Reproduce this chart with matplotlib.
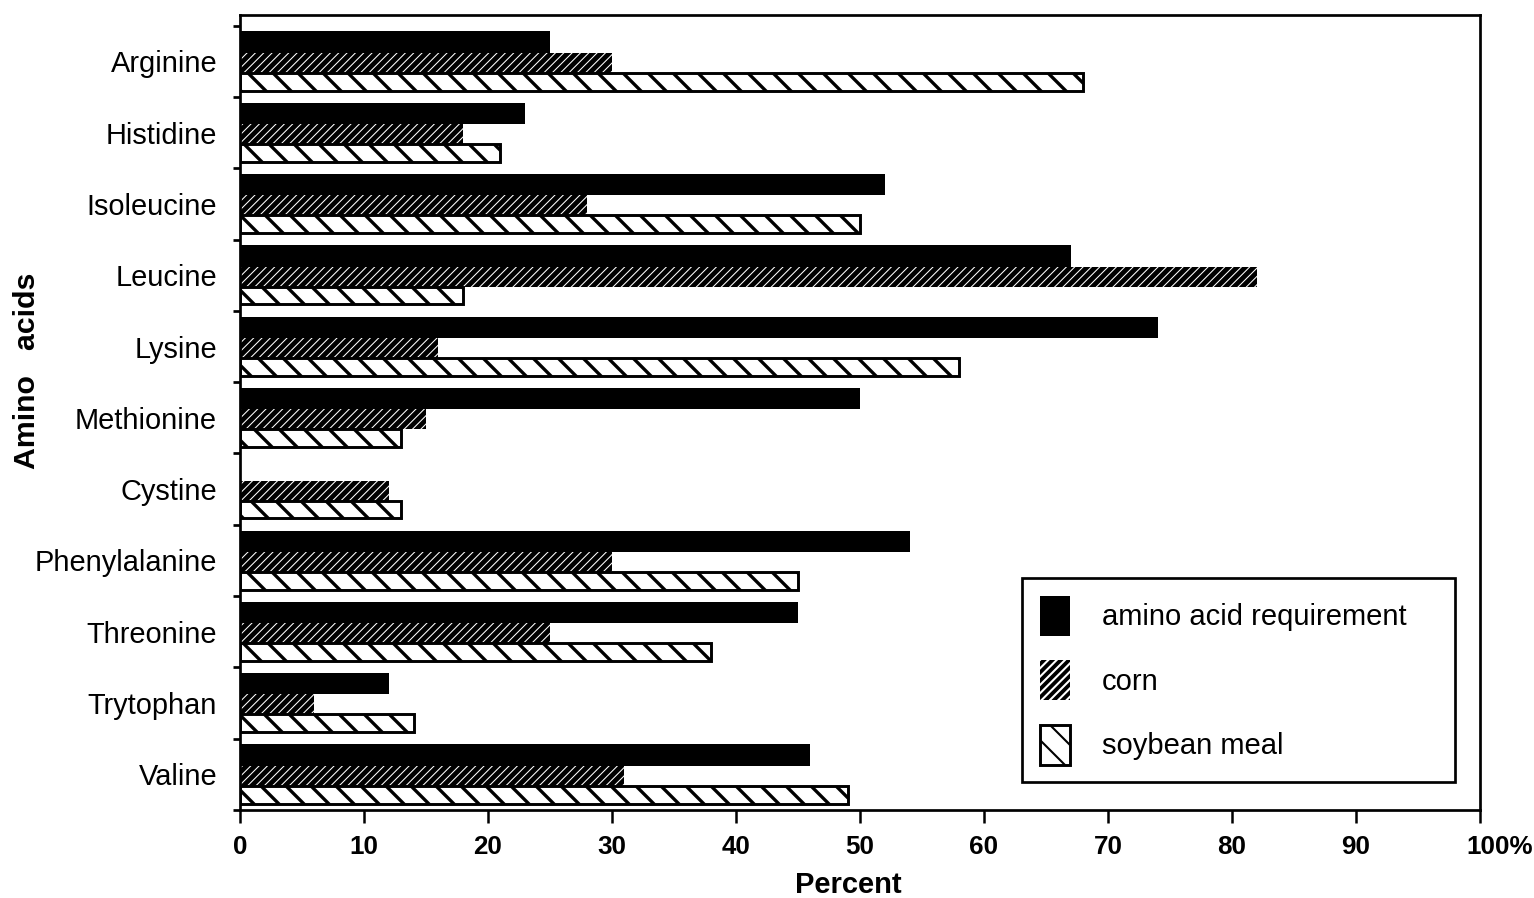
import matplotlib
matplotlib.use('Agg')
import matplotlib.pyplot as plt
import matplotlib.transforms as mtransforms
import numpy as np

categories = ['Arginine', 'Histidine', 'Isoleucine', 'Leucine', 'Lysine', 'Methionine',
              'Cystine', 'Phenylalanine', 'Threonine', 'Trytophan', 'Valine']
requirement = [25, 23, 52, 67, 74, 50, 0, 54, 45, 12, 46]
corn = [30, 18, 28, 82, 16, 15, 12, 30, 25, 6, 31]
soybean = [68, 21, 50, 18, 58, 13, 13, 45, 38, 14, 49]
series_labels = ['amino acid requirement', 'corn', 'soybean meal']
x_ticks = [0, 10, 20, 30, 40, 50, 60, 70, 80, 90, 100]
x_tick_labels = ['0', '10', '20', '30', '40', '50', '60', '70', '80', '90', '100%']

plt.rcParams['font.family'] = ['Liberation Sans', 'DejaVu Sans']

DPI = 150
W, H = 1535, 898
fig = plt.figure(figsize=(W / DPI, H / DPI), dpi=DPI)
ax = fig.add_axes([240 / W, 88 / H, 1240 / W, 795 / H])

y = np.arange(len(categories))

with plt.rc_context({'hatch.linewidth': 0.5}):
    ax.barh(y - 0.27, requirement, height=0.30, color='black', linewidth=0,
            label=series_labels[0])
    ax.barh(y + 0.02, corn, height=0.28, facecolor='black', edgecolor='white',
            hatch='//////', linewidth=0, label=series_labels[1])
with plt.rc_context({'hatch.linewidth': 1.6}):
    ax.barh(y + 0.285, soybean, height=0.25, facecolor='white', edgecolor='black',
            hatch='\\\\', linewidth=1.4, label=series_labels[2])

ax.set_xlim(0, 100)
ax.set_ylim(len(categories) - 0.5, -0.65)

for s in ax.spines.values():
    s.set_linewidth(1.3)
    s.set_color('black')

ax.set_yticks(y)
ax.set_yticklabels(categories, fontsize=13.9)
ax.tick_params(axis='y', which='major', length=0, pad=11)
ax.set_yticks(np.arange(-0.5, len(categories), 1.0), minor=True)
ax.tick_params(axis='y', which='minor', length=3.5, width=1.3, direction='out')

ax.set_xticks(x_ticks)
ax.set_xticklabels(x_tick_labels, fontsize=12.5, fontweight='bold')
ax.tick_params(axis='x', which='major', length=6, width=1.2, direction='out', pad=6)
last = ax.get_xticklabels()[-1]
last.set_transform(last.get_transform() + mtransforms.ScaledTranslation(20 / DPI, 0, fig.dpi_scale_trans))

fig.text(848 / W, 1 - 885 / H, 'Percent', ha='center', va='center',
         fontweight='bold', fontsize=14)
fig.text(27 / W, 1 - 371 / H, 'Amino   acids', ha='center', va='center',
         rotation=90, fontweight='bold', fontsize=14.5)

leg_x0, leg_y1, leg_x1 = 1022 / W, 1 - 578 / H, 1455 / W
leg = ax.legend(loc='upper left', bbox_to_anchor=(leg_x0, leg_y1 - 0.3, leg_x1 - leg_x0, 0.3),
                bbox_transform=fig.transFigure, mode='expand', fontsize=14, frameon=True,
                fancybox=False, edgecolor='black', framealpha=1,
                handlelength=1.03, handleheight=1.75, handletextpad=1.1,
                labelspacing=0.83, borderpad=0.6, borderaxespad=0)
leg.get_frame().set_linewidth(1.3)

fig.savefig('out.png', dpi=DPI, facecolor='white')
